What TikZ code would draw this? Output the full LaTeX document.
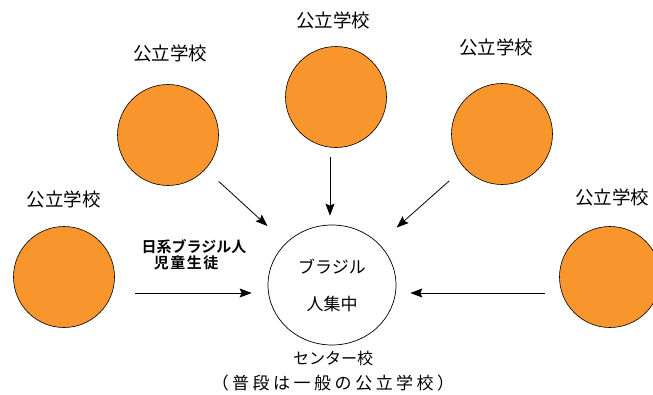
\documentclass[tikz,border=0pt]{standalone}
\usepackage{fontspec}
\setmainfont{Noto Sans CJK JP}
\newfontfamily\jpbold{Noto Sans CJK JP}[BoldFont={* Bold}]
\usetikzlibrary{arrows.meta,shapes.geometric}
\definecolor{schoolorange}{RGB}{248,150,45}
\newdimen\charsp
\def\spaced#1#2{\charsp=#1\relax\spacedi#2\relax\unkern}
\def\spacedi#1{\ifx#1\relax\else#1\kern\charsp\expandafter\spacedi\fi}
\tikzset{
  school/.style={circle,draw=black,line width=0.6pt,fill=schoolorange,minimum size=101pt,inner sep=0pt},
  center/.style={ellipse,draw=black,line width=0.7pt,fill=white,minimum width=128pt,minimum height=120pt,inner sep=0pt,align=center,font=\fontsize{17pt}{37pt}\selectfont},
  lbl/.style={inner sep=0pt,font=\fontsize{18.5pt}{20pt}\selectfont},
  clbl/.style={inner sep=0pt,font=\fontsize{16pt}{18pt}\selectfont},
  slbl/.style={inner sep=0pt,font=\jpbold\bfseries\fontsize{15pt}{16pt}\selectfont},
  arr/.style={line width=0.8pt,-{Stealth[length=12pt,width=9pt,inset=2pt]}}
}
\begin{document}
\begin{tikzpicture}[x=1pt,y=-1pt]
\useasboundingbox (0,0) rectangle (653,394);
% schools
\node[school] (tc) at (336,97) {};
\node[school] (tl) at (168,135) {};
\node[school] (tr) at (502,134) {};
\node[school] (l) at (64,277) {};
\node[school] (r) at (610,277) {};
% labels
\node[lbl] (tcl) at (333,20) {公立学校};
\node[lbl] (tll) at (170,53) {公立学校};
\node[lbl] (trl) at (496,47) {公立学校};
\node[lbl] (ll) at (64,199) {公立学校};
\node[lbl] (rl) at (612,197) {公立学校};
% center
\node[center] (c) at (332,285) {ブラジル\\人集中};
\node[clbl] (cl1) at (333,358) {センター校};
\node[inner sep=0pt,font=\fontsize{17pt}{18pt}\selectfont] (cl2) at (333,383) {\spaced{3.5pt}{（普段は一般の公立学校）}};
% student label
\node[slbl] (s1) at (194,247) {日系ブラジル人};
\node[slbl] (s2) at (186,263) {\spaced{1.5pt}{児童生徒}};
% arrows
\draw[arr,shorten <=18pt,shorten >=25pt] (tl) -- (c);
\draw[arr,shorten <=20pt,shorten >=24pt] (tr) -- (c);
\coordinate (ta) at (330,157);
\draw[arr,shorten >=9pt] (ta) -- (c.north -| ta);
\coordinate (la) at (135,293);
\draw[arr,shorten >=16pt] (la) -- (c.west |- la);
\coordinate (ra) at (545,293);
\draw[arr,shorten >=14pt] (ra) -- (c.east |- ra);
\end{tikzpicture}
\end{document}
